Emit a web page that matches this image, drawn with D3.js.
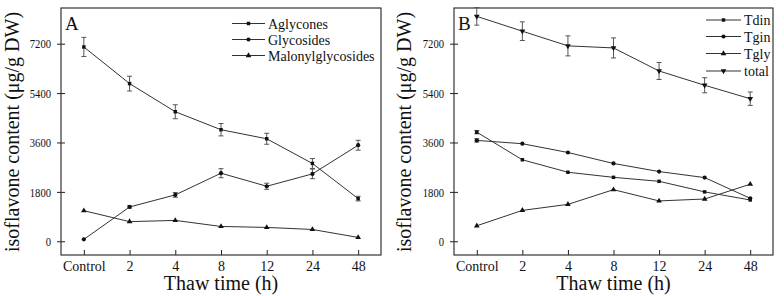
<!DOCTYPE html>
<html><head><meta charset="utf-8">
<script src="https://cdn.jsdelivr.net/npm/d3@7"></script>
<style>
body{margin:0;background:#fff;}
svg text{font-family:"Liberation Serif","Times New Roman",serif;fill:#111;}
</style></head>
<body><svg id="c" width="784" height="296"></svg>
<script>
const categories = ["Control","2","4","8","12","24","48"];
const yTicks = [0,1800,3600,5400,7200];

// Panel A
const aglycones = [7080,5745,4720,4065,3735,2835,1555];
const aglyconesErr = [350,270,255,225,200,180,85];
const glycosides = [70,1250,1690,2480,2005,2455,3500];
const glycosidesErr = [0,40,85,165,110,175,180];
const malonyl = [1115,715,760,540,505,430,140];
const malonylErr = [0,0,0,0,0,0,0];

// Panel B
const tdin = [3975,2970,2515,2330,2185,1800,1505];
const tdinErr = [60,0,0,0,0,0,0];
const tgin = [3675,3555,3235,2835,2540,2320,1565];
const tginErr = [60,0,0,0,0,0,0];
const tgly = [565,1125,1345,1880,1470,1540,2080];
const tglyErr = [0,0,0,0,0,0,0];
const total = [8195,7655,7120,7045,6205,5685,5195];
const totalErr = [320,340,365,365,310,275,245];

const svg = d3.select("#c");
const serif = '"Liberation Serif","Times New Roman",serif';

function panel(opt){
  const g = svg.append("g");
  const x = d3.scaleLinear().domain([-0.5,6.5]).range([opt.left,opt.right]);
  const y = d3.scaleLinear().domain([-500,8500]).range([255,8]);
  g.append("rect").attr("x",opt.left).attr("y",8).attr("width",opt.right-opt.left).attr("height",247)
    .attr("fill","none").attr("stroke","#222").attr("stroke-width",1.1);
  const xa = g.append("g").attr("transform","translate(0,255)")
    .call(d3.axisBottom(x).tickValues(d3.range(7)).tickFormat(i=>categories[i]).tickSizeInner(-5).tickSizeOuter(0).tickPadding(6));
  xa.attr("font-family",serif).attr("font-size",14);
  xa.select(".domain").remove();
  xa.selectAll("line").attr("stroke","#222");
  xa.selectAll("text").attr("fill","#111");
  const ya = g.append("g").attr("transform",`translate(${opt.left},0)`)
    .call(d3.axisLeft(y).tickValues(yTicks).tickFormat(d3.format("d")).tickSizeInner(4).tickSizeOuter(0).tickPadding(6));
  ya.attr("font-family",serif).attr("font-size",13);
  ya.select(".domain").remove();
  ya.selectAll("line").attr("stroke","#222").attr("x2",4).attr("x1",-4);
  ya.selectAll("text").attr("fill","#111")
    .attr("textLength",d=>String(d).length*5.3).attr("lengthAdjust","spacingAndGlyphs");
  g.append("text").attr("x",(opt.left+opt.right)/2).attr("y",290).attr("text-anchor","middle")
    .style("font-size","20px").text("Thaw time (h)");
  g.append("text").attr("transform",`translate(${opt.ylx},132) rotate(-90)`).attr("text-anchor","middle")
    .style("font-size","20px").text("isoflavone content (μg/g DW)");
  g.append("text").attr("x",opt.left+4).attr("y",30).style("font-size","19px").text(opt.label);

  const line = d3.line().x((d,i)=>x(i)).y(d=>y(d));
  opt.series.forEach((s,si)=>{
    const sg = g.append("g");
    sg.append("path").datum(s.values).attr("d",line).attr("fill","none").attr("stroke","#333").attr("stroke-width",1);
    s.err.forEach((e,i)=>{
      if(!e) return;
      const cx = x(i), y1 = y(s.values[i]+e), y2 = y(s.values[i]-e);
      sg.append("line").attr("x1",cx).attr("x2",cx).attr("y1",y1).attr("y2",y2).attr("stroke","#555").attr("stroke-width",1);
      [y1,y2].forEach(yy=>sg.append("line").attr("x1",cx-2.5).attr("x2",cx+2.5).attr("y1",yy).attr("y2",yy).attr("stroke","#555").attr("stroke-width",1));
    });
    s.values.forEach((v,i)=>marker(sg,s.sym,x(i),y(v)));
    const ly = opt.legendY[si];
    g.append("line").attr("x1",opt.legX).attr("x2",opt.legX+opt.legW).attr("y1",ly).attr("y2",ly).attr("stroke","#333").attr("stroke-width",1);
    marker(g,s.sym,opt.legX+opt.legW/2,ly);
    g.append("text").attr("x",opt.legX+opt.legW+3).attr("y",ly+5).style("font-size","14px").text(s.name);
  });
}

function marker(g,sym,cx,cy){
  const types = {square:d3.symbolSquare,circle:d3.symbolCircle,up:d3.symbolTriangle};
  if(sym==="down"){
    g.append("path").attr("d",d3.symbol(d3.symbolTriangle,14)()).attr("transform",`translate(${cx},${cy}) rotate(180)`).attr("fill","#111");
  } else {
    g.append("path").attr("d",d3.symbol(types[sym],sym==="square"?12:14)()).attr("transform",`translate(${cx},${cy})`).attr("fill","#111");
  }
}

panel({left:61,right:381,ylx:19,label:"A",legX:232,legW:33,legendY:[23.5,39.5,55.5],
  series:[
    {name:"Aglycones",values:aglycones,err:aglyconesErr,sym:"square"},
    {name:"Glycosides",values:glycosides,err:glycosidesErr,sym:"circle"},
    {name:"Malonylglycosides",values:malonyl,err:malonylErr,sym:"up"}
  ]});
panel({left:454,right:773,ylx:411,label:"B",legX:706,legW:35,legendY:[20,36.5,53.5,71],
  series:[
    {name:"Tdin",values:tdin,err:tdinErr,sym:"square"},
    {name:"Tgin",values:tgin,err:tginErr,sym:"circle"},
    {name:"Tgly",values:tgly,err:tglyErr,sym:"up"},
    {name:"total",values:total,err:totalErr,sym:"down"}
  ]});
</script></body></html>
